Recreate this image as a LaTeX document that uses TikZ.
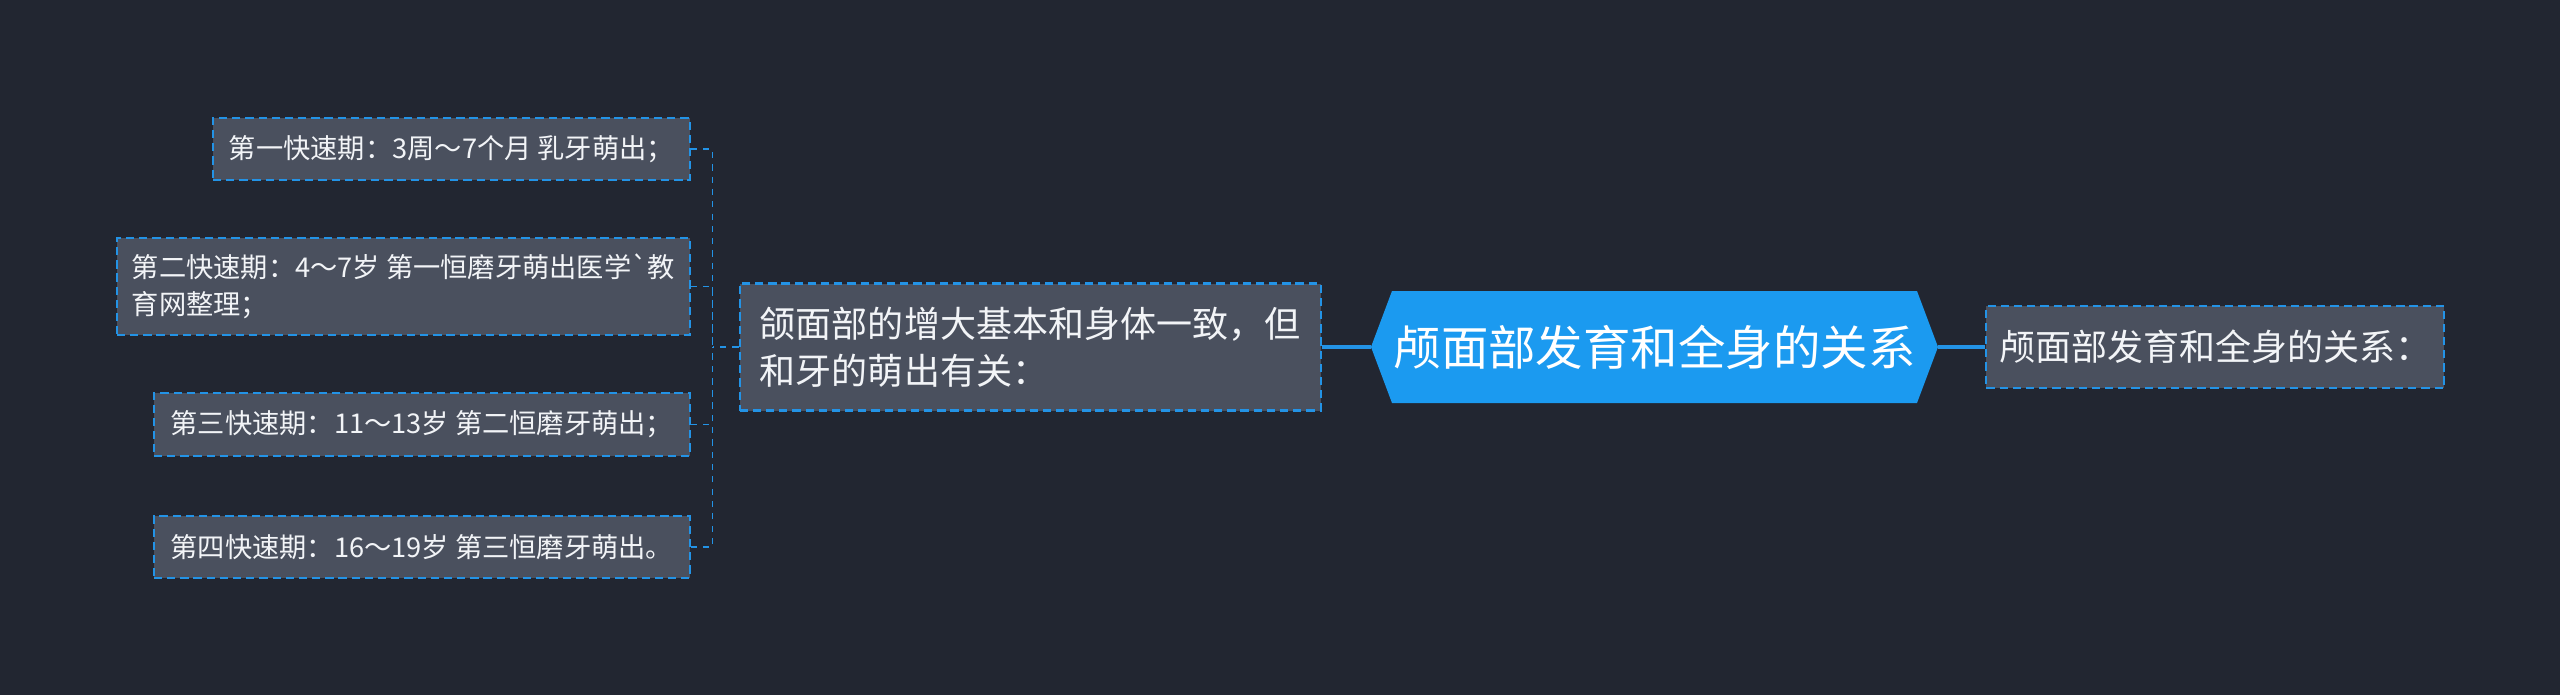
\documentclass[tikz,border=0pt]{standalone}
\usepackage{fontspec}
\setmainfont{Noto Sans CJK SC}
\usepackage{xcolor}
\usetikzlibrary{positioning}

\definecolor{bgdark}{HTML}{222631}
\definecolor{boxgrey}{HTML}{4A505E}
\definecolor{linkblue}{HTML}{2393E6}
\definecolor{rootblue}{HTML}{1B9AF0}
\definecolor{textwhite}{HTML}{F2F4F7}

\begin{document}
\begin{tikzpicture}[
    leaf/.style={draw=linkblue, fill=boxgrey, dash pattern=on 4.7pt off 2.8pt,
      line width=1.2pt, text=textwhite, align=left, inner sep=0pt,
      font=\fontsize{15.5}{21.4}\selectfont},
    topic/.style={leaf, font=\fontsize{20.5}{26.8}\selectfont},
    rootbox/.style={fill=bgdark, inner sep=0pt, text=white,
      minimum width=11.34cm, minimum height=2.24cm,
      font=\fontsize{27}{30}\selectfont,
      path picture={\fill[rootblue] (path picture bounding box.west)
        -- ([xshift=0.42cm]path picture bounding box.north west)
        -- ([xshift=-0.42cm]path picture bounding box.north east)
        -- (path picture bounding box.east)
        -- ([xshift=-0.42cm]path picture bounding box.south east)
        -- ([xshift=0.42cm]path picture bounding box.south west) -- cycle;}},
    trunk/.style={draw=linkblue, line width=2pt},
    branch/.style={draw=linkblue, line width=1pt, dash pattern=on 3.5pt off 3.5pt}]
    % BACKGROUND
    \fill[bgdark] (0,0) rectangle (51.2,-13.9);
    \useasboundingbox (0,0) rectangle (51.2,-13.9);

    % NODES
    % root
    \node[rootbox] (root) at (33.09,-6.94) {颅面部发育和全身的关系};
    % left topic
    \node[topic, left = 0.98cm of root, minimum width=11.62cm, minimum height=2.54cm] (mid)
      {颌面部的增大基本和身体一致，但\\和牙的萌出有关：};
    % right topic
    \node[topic, right = 0.94cm of root, minimum width=9.16cm, minimum height=1.64cm] (right)
      {颅面部发育和全身的关系：};
    % leaves
    \node[leaf, anchor=east, minimum width=9.54cm, minimum height=1.24cm] (b1) at (13.82,-2.98)
      {第一快速期：3周～7个月 乳牙萌出；};
    \node[leaf, anchor=east, minimum width=11.46cm, minimum height=1.94cm] (b2) at (13.82,-5.73)
      {第二快速期：4～7岁 第一恒磨牙萌出医学\textasciigrave 教\\育网整理；};
    \node[leaf, anchor=east, minimum width=10.72cm, minimum height=1.26cm] (b3) at (13.82,-8.49)
      {第三快速期：11～13岁 第二恒磨牙萌出；};
    \node[leaf, anchor=east, minimum width=10.72cm, minimum height=1.24cm] (b4) at (13.82,-10.94)
      {第四快速期：16～19岁 第三恒磨牙萌出。};
    \coordinate[left = 0.52cm of mid.west] (spine);

    % ARROWS
    \draw[trunk] (root.west)--(mid.east);
    \draw[trunk] (root.east)--(right.west);
    \draw[branch] (mid.west)--(spine);
    \foreach \b in {b1,b2,b3,b4}
      \draw[branch] (\b.east) -| (spine);
  \end{tikzpicture}
\end{document}
